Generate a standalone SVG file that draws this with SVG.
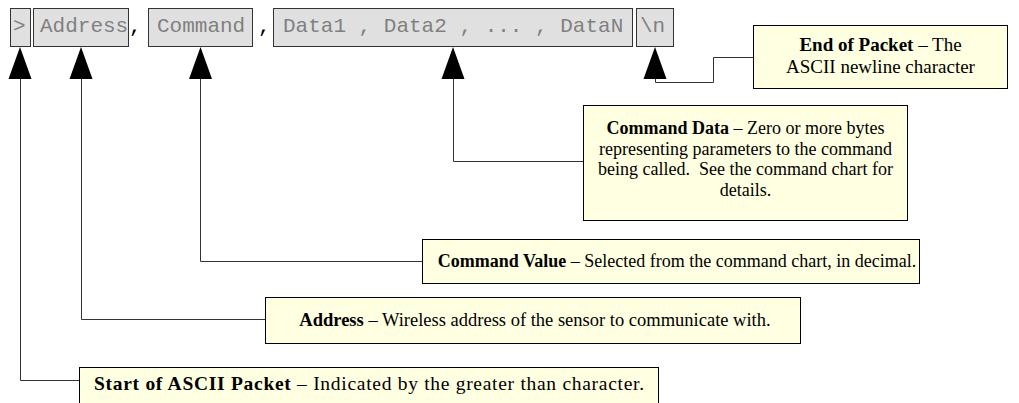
<svg xmlns="http://www.w3.org/2000/svg" width="1019" height="403" viewBox="0 0 1019 403">
<style>
.pk{fill:#e0e0e0;stroke:#333;stroke-width:1}
.pt{font-family:"Liberation Mono",monospace;font-size:21px;fill:#808080}
.pc{font-family:"Liberation Mono",monospace;font-size:21px;fill:#000}
.cb{fill:#ffffe1;stroke:#000;stroke-width:1}
.ct{font-family:"Liberation Serif",serif;font-size:18px;fill:#000;text-anchor:middle}
.b{font-weight:bold}
.ln{fill:none;stroke:#333;stroke-width:1}
.ar{fill:#000}
</style>
<rect width="1019" height="403" fill="#fff"/>
<g id="packet">
<rect class="pk" x="10.5" y="8.5" width="20" height="38"/>
<text class="pt" x="13" y="32">&gt;</text>
<rect class="pk" x="33.5" y="8.5" width="95" height="38"/>
<text class="pt" x="40" y="32">Address</text>
<text class="pc" x="129" y="32">,</text>
<rect class="pk" x="148.5" y="8.5" width="104" height="38"/>
<text class="pt" x="157" y="32">Command</text>
<text class="pc" x="258" y="32">,</text>
<rect class="pk" x="273.5" y="8.5" width="359" height="38"/>
<text class="pt" x="283" y="32">Data1 , Data2 , ... , DataN</text>
<rect class="pk" x="636.5" y="8.5" width="37" height="38"/>
<text class="pt" x="640" y="32">\n</text>
</g>
<g id="connectors">
<polygon class="ar" points="20,47 8.5,79 31.5,79"/>
<polygon class="ar" points="81,47 69.5,79 92.5,79"/>
<polygon class="ar" points="200.5,47 189,79 212,79"/>
<polygon class="ar" points="453,47 441.5,79 464.5,79"/>
<polygon class="ar" points="655,47 643.5,79 666.5,79"/>
<polyline class="ln" points="20.5,79 20.5,380.5 79,380.5"/>
<polyline class="ln" points="81.5,79 81.5,319.5 265,319.5"/>
<polyline class="ln" points="200.5,79 200.5,261.5 422,261.5"/>
<polyline class="ln" points="453.5,79 453.5,161.5 583,161.5"/>
<polyline class="ln" points="655.5,79 655.5,82.5 713.5,82.5 713.5,57.5 753,57.5"/>
</g>
<g id="end-of-packet">
<rect class="cb" x="753.5" y="25.5" width="254" height="63"/>
<text class="ct" x="880.5" y="51" style="font-size:19px"><tspan class="b">End of Packet</tspan> – The</text>
<text class="ct" x="880.5" y="73" style="font-size:19px">ASCII newline character</text>
</g>
<g id="command-data">
<rect class="cb" x="583.5" y="105.5" width="324" height="115"/>
<text class="ct" x="745.5" y="134"><tspan class="b">Command Data</tspan> – Zero or more bytes</text>
<text class="ct" x="745.5" y="154.5">representing parameters to the command</text>
<text class="ct" x="745.5" y="175" xml:space="preserve">being called.  See the command chart for</text>
<text class="ct" x="745.5" y="195.5">details.</text>
</g>
<g id="command-value">
<rect class="cb" x="422.5" y="239.5" width="497" height="44"/>
<text class="ct" x="677" y="267"><tspan class="b">Command Value</tspan> – Selected from the command chart, in decimal.</text>
</g>
<g id="address">
<rect class="cb" x="265.5" y="297.5" width="535" height="46"/>
<text class="ct" x="535" y="326" style="font-size:18.5px"><tspan class="b">Address</tspan> – Wireless address of the sensor to communicate with.</text>
</g>
<g id="start">
<rect class="cb" x="79.5" y="367.5" width="579" height="50"/>
<text class="ct" x="369" y="390" style="font-size:19.5px" textLength="550" lengthAdjust="spacing"><tspan class="b">Start of ASCII Packet</tspan> – Indicated by the greater than character.</text>
</g>
</svg>
